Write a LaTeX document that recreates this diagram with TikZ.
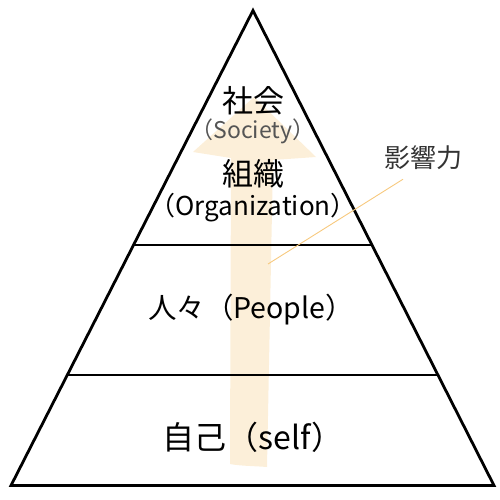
\documentclass[tikz,border=0pt]{standalone}
\usepackage{fontspec}
\setmainfont{Noto Sans CJK JP}
\usetikzlibrary{calc}
\definecolor{arrowcream}{HTML}{FCEFD9}
\definecolor{leaderorange}{HTML}{F7C97E}
\definecolor{subgray}{HTML}{555555}
\definecolor{notegray}{HTML}{333333}

\begin{document}
\begin{tikzpicture}[x=1pt, y=-1pt,
  tier/.style={line width=2.8pt},
  lbl/.style={inner sep=0pt, anchor=center}]
\useasboundingbox (0,0) rectangle (500,500);
% Influence arrow (background)
\fill[arrowcream] (230,464) -- (231,158) -- (193,152) -- (254,97) -- (316,157)
  -- (273,160) -- (267,467) .. controls (255,466) and (240,466) .. cycle;
% Pyramid
\coordinate (apex) at (253,10.5);
\coordinate (bl) at (11,485.5);
\coordinate (br) at (494,485.5);
\draw[tier, line join=miter] (apex) -- (bl) -- (br) -- cycle;
\foreach \t in {0.4937, 0.7674} {
  \draw[tier] ($(apex)!\t!(bl)$) -- ($(apex)!\t!(br)$);
}
% Labels
\node[lbl, font=\fontsize{31}{37}\selectfont] (society) at (253,101) {社会};
\node[lbl, font=\fontsize{23}{28}\selectfont, text=subgray] (societyen) at (253,131) {（Society）};
\node[lbl, font=\fontsize{31}{37}\selectfont] (org) at (253,174) {組織};
\node[lbl, font=\fontsize{26}{31}\selectfont] (orgen) at (253,208) {（Organization）};
\node[lbl, font=\fontsize{28.5}{34}\selectfont] (people) at (251,310) {人々（People）};
\node[lbl, font=\fontsize{32}{38}\selectfont] (self) at (253,437) {自己（self）};
\node[lbl, font=\fontsize{26}{31}\selectfont, text=notegray] (influence) at (423,158) {影響力};
% Leader
\coordinate (inflend) at (268,264);
\draw[leaderorange, line width=0.9pt] ($(influence.south)+(-20,9)$) -- (inflend);
\end{tikzpicture}
\end{document}
